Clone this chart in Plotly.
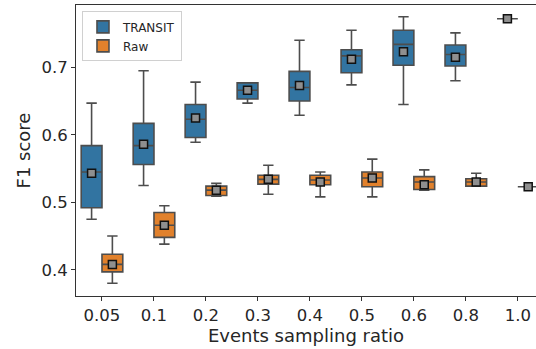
import plotly.graph_objects as go

categories = ["0.05", "0.1", "0.2", "0.3", "0.4", "0.5", "0.6", "0.8", "1.0"]

# TRANSIT stats
tr_low = [0.475, 0.525, 0.589, 0.647, 0.629, 0.674, 0.645, 0.680, 0.772]
tr_q1 = [0.492, 0.556, 0.596, 0.653, 0.650, 0.692, 0.703, 0.702, 0.772]
tr_med = [0.545, 0.584, 0.623, 0.666, 0.670, 0.717, 0.734, 0.719, 0.772]
tr_q3 = [0.584, 0.617, 0.645, 0.677, 0.694, 0.726, 0.755, 0.733, 0.772]
tr_high = [0.647, 0.695, 0.678, 0.677, 0.740, 0.755, 0.775, 0.751, 0.772]
tr_mean = [0.543, 0.586, 0.625, 0.666, 0.673, 0.712, 0.723, 0.715, 0.772]

# Raw stats
raw_low = [0.380, 0.438, 0.509, 0.512, 0.508, 0.508, 0.518, 0.524, 0.523]
raw_q1 = [0.397, 0.448, 0.510, 0.527, 0.526, 0.523, 0.519, 0.524, 0.523]
raw_med = [0.408, 0.466, 0.518, 0.534, 0.533, 0.536, 0.530, 0.530, 0.523]
raw_q3 = [0.423, 0.485, 0.524, 0.540, 0.540, 0.545, 0.538, 0.535, 0.523]
raw_high = [0.450, 0.495, 0.528, 0.555, 0.545, 0.564, 0.548, 0.543, 0.523]
raw_mean = [0.408, 0.466, 0.518, 0.534, 0.530, 0.536, 0.526, 0.530, 0.523]

series = [
    ("TRANSIT", "#3274a1", -0.2, tr_low, tr_q1, tr_med, tr_q3, tr_high, tr_mean),
    ("Raw", "#e1812c", 0.2, raw_low, raw_q1, raw_med, raw_q3, raw_high, raw_mean),
]

EDGE = "#4d4d4d"
fig = go.Figure()
idx = list(range(len(categories)))
for name, color, off, lo, q1, med, q3, hi, mn in series:
    xs = [i + off for i in idx]
    fig.add_trace(go.Box(
        name=name, x=xs, q1=q1, median=med, q3=q3,
        lowerfence=lo, upperfence=hi,
        width=0.4, whiskerwidth=0.5,
        fillcolor=color, line=dict(color=EDGE, width=1.6),
        boxpoints=False, showlegend=True,
    ))
for name, color, off, lo, q1, med, q3, hi, mn in series:
    xs = [i + off for i in idx]
    fig.add_trace(go.Scatter(
        x=xs, y=mn, mode="markers", showlegend=False, hoverinfo="skip",
        marker=dict(symbol="square", size=8, color="#8f8f8f",
                    line=dict(color="#111111", width=1.5)),
    ))

font = "DejaVu Sans, sans-serif"
fig.update_layout(
    width=536, height=349,
    margin=dict(l=76, r=0, t=5, b=53),
    paper_bgcolor="white", plot_bgcolor="white",
    font=dict(family=font, size=16, color="#262626"),
    legend=dict(x=0.013, y=0.978, xanchor="left", yanchor="top",
                bgcolor="white", bordercolor="#d0d0d0", borderwidth=1,
                font=dict(size=12, family=font), tracegroupgap=0),
    xaxis=dict(
        range=[-0.5, 8.35], tickmode="array", tickvals=idx, ticktext=categories,
        showgrid=False, zeroline=False, showline=True, linecolor="#333333",
        linewidth=1, mirror=True, ticks="outside", ticklen=4, tickcolor="#333333",
        title=dict(text="Events sampling ratio", font=dict(size=18), standoff=2),
        tickfont=dict(size=16.5), automargin=False,
    ),
    yaxis=dict(
        range=[0.3612, 0.7923], tickvals=[0.4, 0.5, 0.6, 0.7],
        ticktext=["0.4", "0.5", "0.6", "0.7"],
        showgrid=False, zeroline=False, showline=True, linecolor="#333333",
        linewidth=1, ticks="outside", ticklen=4, tickcolor="#333333",
        title=dict(text="F1 score", font=dict(size=18), standoff=6),
        tickfont=dict(size=16.5), automargin=False,
    ),
)

fig.write_html("out.html", config={"displayModeBar": False},
               post_script="document.body.style.margin='0px';")
